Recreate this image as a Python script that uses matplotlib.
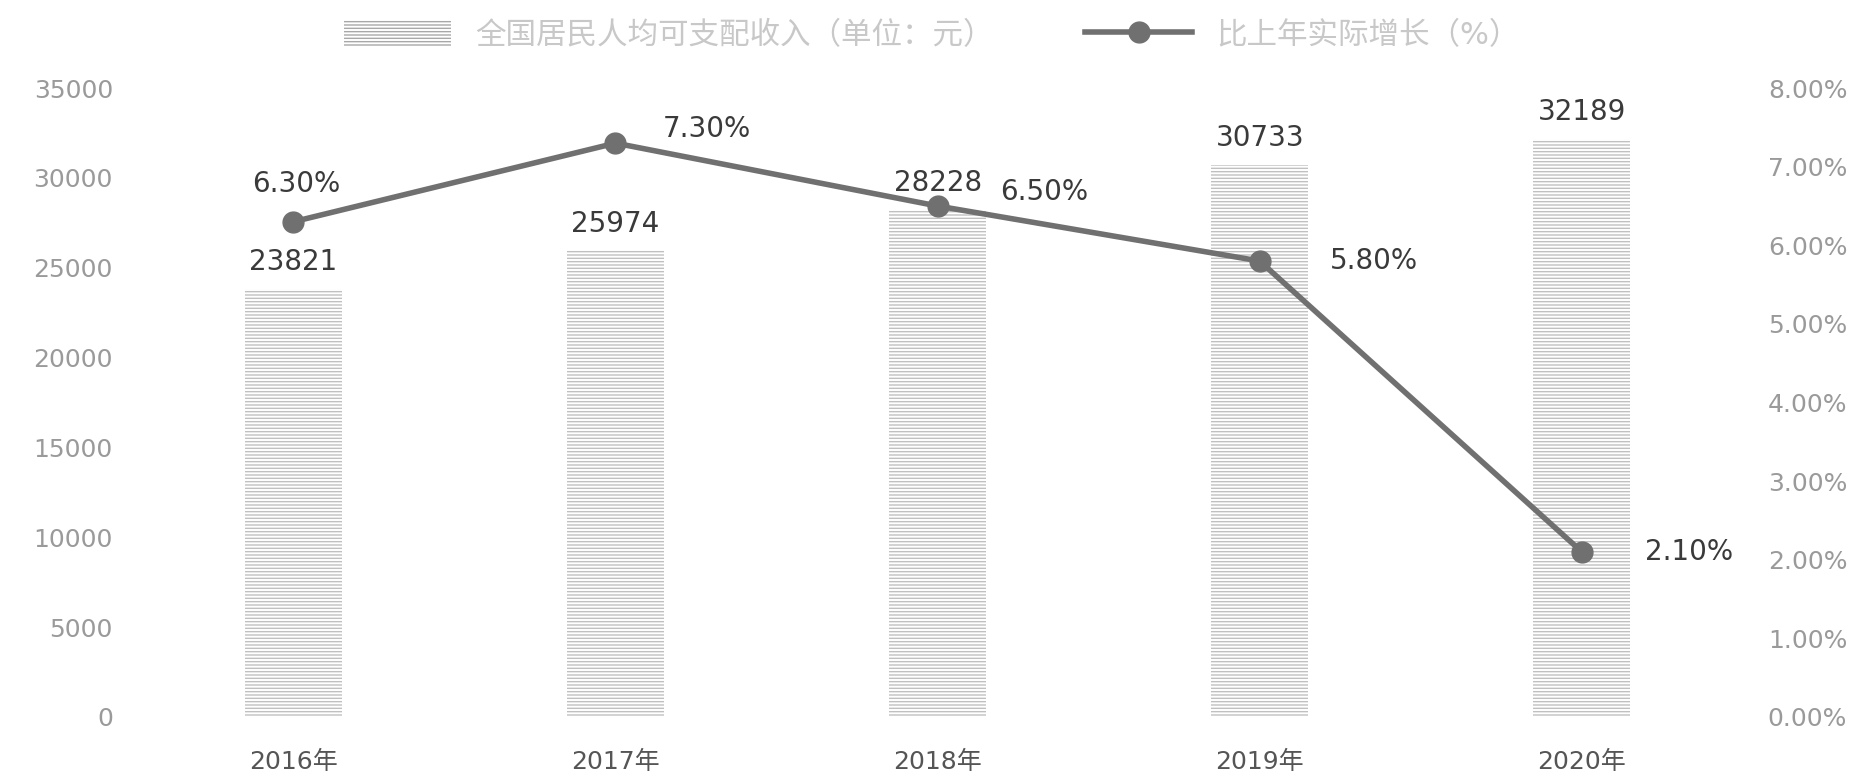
import numpy as np
import matplotlib.pyplot as plt
from matplotlib.patches import Patch
from matplotlib.lines import Line2D

plt.rcParams['font.family'] = ['DejaVu Sans', 'Noto Sans CJK SC']
plt.rcParams['hatch.linewidth'] = 1.0

years = ["2016年", "2017年", "2018年", "2019年", "2020年"]
income = [23821, 25974, 28228, 30733, 32189]
growth = [6.3, 7.3, 6.5, 5.8, 2.1]
bar_label = "全国居民人均可支配收入（单位：元）"
line_label = "比上年实际增长（%）"

tick_color = "#9a9a9a"
text_color = "#3a3a3a"
line_color = "#707070"

fig = plt.figure(figsize=(18.64, 7.8), dpi=100)
ax = fig.add_axes([0.071, 0.081, 0.864, 0.806])
ax2 = ax.twinx()

x = np.arange(len(years))
ax.bar(x, income, width=0.3, color="white", edgecolor="#c0c0c0", hatch="-----", linewidth=0)
for xi, v in zip(x, income):
    ax.text(xi, v + 700, str(v), ha="center", va="bottom", fontsize=20, color=text_color)

ax.set_xlim(-0.5, len(years) - 0.5)
ax.set_ylim(0, 35000)
ax.set_yticks(np.arange(0, 35001, 5000))
ax.set_xticks(x)
ax.set_xticklabels(years, fontsize=18, color="#555555")

ax2.plot(x, growth, color=line_color, linewidth=4, marker="o", markersize=15, zorder=5)
ax2.set_ylim(0, 8)
ax2.set_yticks(np.arange(0, 8.01, 1))
ax2.set_yticklabels(["%.2f%%" % t for t in np.arange(0, 8.01, 1)])

# label offsets in points (dx, dy)
offsets = [(2, 27), (66, 10), (77, 10), (82, 0), (77, 0)]
for xi, g, (dx, dy) in zip(x, growth, offsets):
    ax2.annotate("%.2f%%" % g, (xi, g), xytext=(dx, dy), textcoords="offset points",
                 ha="center", va="center", fontsize=20, color=text_color)

for a in (ax, ax2):
    for s in a.spines.values():
        s.set_visible(False)
    a.tick_params(length=0, labelsize=18, colors=tick_color)
ax.tick_params(axis="x", colors="#555555", pad=24)
ax.tick_params(axis="y", pad=14)
ax2.tick_params(axis="y", pad=18)

handles = [Patch(facecolor="white", edgecolor="#a8a8a8", hatch="-----", linewidth=0),
           Line2D([], [], color=line_color, linewidth=4, marker="o", markersize=15)]
fig.legend(handles, [bar_label, line_label], loc="center", bbox_to_anchor=(0.5, 0.955),
           ncol=2, frameon=False, fontsize=22, handlelength=3.5, handleheight=0.9,
           columnspacing=3, labelcolor="#c8c8c8")

fig.savefig("out.png", dpi=100)
